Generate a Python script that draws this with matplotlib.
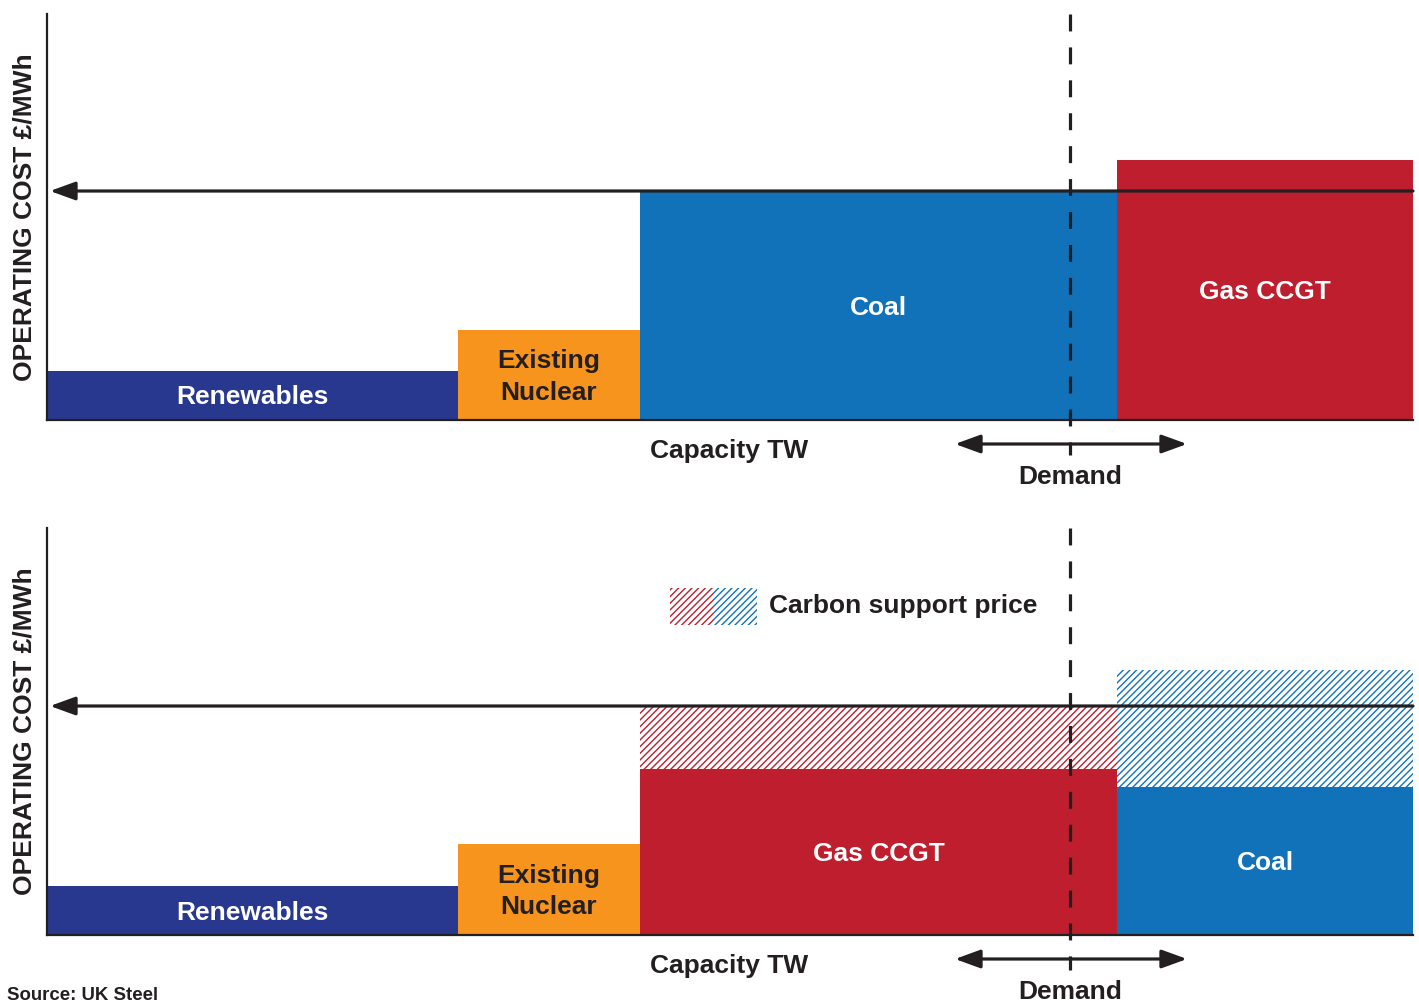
import numpy as np
import matplotlib
matplotlib.use("Agg")
import matplotlib.pyplot as plt
from matplotlib.patches import Rectangle

# --- merit-order data (schematic units) ---
top_categories = ["Renewables", "Existing\nNuclear", "Coal", "Gas CCGT"]
top_capacity = [411, 182, 477, 296]
top_cost = [49, 90, 228, 260]

bottom_categories = ["Renewables", "Existing\nNuclear", "Gas CCGT", "Coal"]
bottom_capacity = [411, 182, 477, 296]
bottom_cost = [49, 91, 166, 148]
carbon_support = [0, 0, 63, 117]

market_price = 229
demand_level = 1023
demand_band = [908, 1140]

# --- styling ---
DARK = "#231F20"
COLORS = {
    "Renewables": "#28388F",
    "Existing\nNuclear": "#F7941D",
    "Coal": "#1172BA",
    "Gas CCGT": "#BE1E2D",
}
TEXT_COLORS = {
    "Renewables": "white",
    "Existing\nNuclear": DARK,
    "Coal": "white",
    "Gas CCGT": "white",
}
HATCH = "/////"

plt.rcParams["font.family"] = ["Liberation Sans", "DejaVu Sans"]
plt.rcParams["font.weight"] = "bold"
plt.rcParams["lines.scale_dashes"] = False
plt.rcParams["hatch.linewidth"] = 1.0

W, H = 1419, 1000
fig = plt.figure(figsize=(W / 100, H / 100), dpi=100)

XMAX = 1366
FS = 19


def draw_panel(ax, cats, caps, costs, ymax, extra=None):
    lefts = np.concatenate([[0], np.cumsum(caps)[:-1]])
    for cat, left, cap, cost in zip(cats, lefts, caps, costs):
        ax.bar(left, cost, width=cap, align="edge", color=COLORS[cat],
               linewidth=0, zorder=1)
        ax.text(left + cap / 2, cost / 2 - 2, cat, ha="center", va="center",
                fontsize=FS, fontweight="bold", color=TEXT_COLORS[cat],
                linespacing=1.38, zorder=3)
    if extra is not None:
        for cat, left, cap, cost, add in zip(cats, lefts, caps, costs, extra):
            if add > 0:
                ax.bar(left, add, width=cap, bottom=cost, align="edge",
                       facecolor="white", edgecolor=COLORS[cat], hatch=HATCH,
                       linewidth=0, zorder=1)

    ax.set_xlim(0, XMAX)
    ax.set_ylim(0, ymax)
    for s in ("top", "right"):
        ax.spines[s].set_visible(False)
    for s in ("left", "bottom"):
        ax.spines[s].set_linewidth(1.6)
        ax.spines[s].set_color(DARK)
    ax.set_xticks([])
    ax.set_yticks([])

    # market clearing price line with arrow to the cost axis
    ax.annotate("", xy=(3, market_price), xytext=(XMAX, market_price),
                arrowprops=dict(arrowstyle="-|>,head_length=0.55,head_width=0.2",
                                lw=2.3, color=DARK, mutation_scale=28,
                                shrinkA=0, shrinkB=0),
                zorder=4, annotation_clip=False)

    # demand level (dashed)
    ax.plot([demand_level, demand_level], [ymax, -35], color=DARK, lw=2.3,
            linestyle=(0, (12.2, 11.5)), clip_on=False, zorder=5,
            solid_capstyle="butt", dash_capstyle="butt")

    # demand uncertainty band
    ax.annotate("", xy=(demand_band[0], -24), xytext=(demand_band[1], -24),
                arrowprops=dict(arrowstyle="<|-|>,head_length=0.55,head_width=0.2",
                                lw=2.3, color=DARK, mutation_scale=28,
                                shrinkA=0, shrinkB=0),
                annotation_clip=False)
    ax.text(demand_level, -57, "Demand", ha="center", va="center",
            fontsize=FS, fontweight="bold", color=DARK, clip_on=False)
    ax.text(682, -31, "Capacity TW", ha="center", va="center",
            fontsize=FS, fontweight="bold", color=DARK, clip_on=False)


# top panel: coal before gas
ax1 = fig.add_axes([47 / W, 1 - 420 / H, XMAX / W, 406 / H])
draw_panel(ax1, top_categories, top_capacity, top_cost, 406)

# bottom panel: gas before coal, carbon support price added
ax2 = fig.add_axes([47 / W, 1 - 935 / H, XMAX / W, 407 / H])
draw_panel(ax2, bottom_categories, bottom_capacity, bottom_cost, 407,
           extra=carbon_support)

# carbon support price key
ax2.add_patch(Rectangle((623, 310), 43, 37, facecolor="white",
                        edgecolor=COLORS["Gas CCGT"], hatch=HATCH, linewidth=0))
ax2.add_patch(Rectangle((666, 310), 44, 37, facecolor="white",
                        edgecolor=COLORS["Coal"], hatch=HATCH, linewidth=0))
ax2.text(722, 329, "Carbon support price", ha="left", va="center",
         fontsize=FS, fontweight="bold", color=DARK)

# axis titles
for yc in (217, 731):
    fig.text(25 / W, 1 - yc / H, "OPERATING COST £/MWh", rotation=90,
             ha="center", va="center", fontsize=FS, fontweight="bold",
             color=DARK)

fig.text(7 / W, 1 - 987 / H, "Source: UK Steel", ha="left", va="top",
         fontsize=13.4, fontweight="bold", color=DARK)

fig.savefig("out.png", dpi=100)
